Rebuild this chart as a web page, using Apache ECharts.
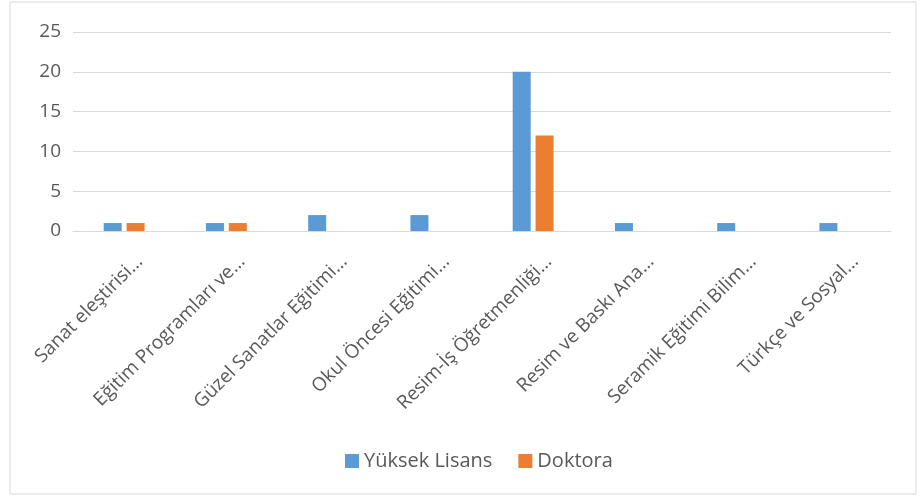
<!doctype html>
<html>
<head>
	<meta charset="utf-8">
	<title>Chart</title>
	<script src="https://cdn.jsdelivr.net/npm/echarts@6/dist/echarts.min.js"></script>
	<style>
		html, body { margin: 0; padding: 0; background: #fff; }
		#chart { width: 920px; height: 497px; }
	</style>
</head>
<body>
	<div id="chart"></div>
	<script type="text/javascript">
		var categories = ['Sanat eleştirisi...', 'Eğitim Programları ve...', 'Güzel Sanatlar Eğitimi...', 'Okul Öncesi Eğitimi...', 'Resim-İş Öğretmenliği...', 'Resim ve Baskı Ana...', 'Seramik Eğitimi Bilim...', 'Türkçe ve Sosyal...'];
		var yuksekLisans = [1, 1, 2, 2, 20, 1, 1, 1];
		var doktora = [1, 1, 0, 0, 12, 0, 0, 0];
		var yTicks = [0, 5, 10, 15, 20, 25];

		var textColor = '#595959';
		var font = 'Open Sans';

		var myChart = echarts.init(document.getElementById('chart'), null, { renderer: 'canvas' });
		var option = {
			animation: false,
			graphic: [{
				type: 'rect',
				shape: { x: 10, y: 2, width: 906, height: 492 },
				style: { fill: 'none', stroke: '#D9D9D9', lineWidth: 1 }
			}],
			legend: {
				data: ['Yüksek Lisans', 'Doktora'],
				left: 340,
				top: 446,
				icon: 'rect',
				itemWidth: 14,
				itemHeight: 14,
				itemGap: 26,
				textStyle: { color: textColor, fontSize: 20, fontFamily: font }
			},
			grid: {
				left: 73,
				right: 29,
				top: 32,
				height: 199
			},
			xAxis: {
				type: 'category',
				data: categories,
				axisLine: { lineStyle: { color: '#D9D9D9', width: 1 } },
				axisTick: { show: false },
				axisLabel: {
					rotate: 45,
					interval: 0,
					margin: 12,
					verticalAlign: 'top',
					lineHeight: 44,
					color: textColor,
					fontSize: 19,
					fontFamily: font
				}
			},
			yAxis: {
				type: 'value',
				min: 0,
				max: 25,
				interval: 5,
				axisLine: { show: false },
				axisTick: { show: false },
				splitLine: { lineStyle: { color: '#D9D9D9', width: 1 } },
				axisLabel: {
					margin: 12,
					color: textColor,
					fontSize: 19,
					fontFamily: font,
					formatter: function(v) { return yTicks.indexOf(v) >= 0 ? String(v) : ''; }
				}
			},
			series: [
				{
					name: 'Yüksek Lisans',
					type: 'bar',
					data: yuksekLisans,
					barGap: '27%',
					barCategoryGap: '60%',
					itemStyle: { color: '#5B9BD5' }
				},
				{
					name: 'Doktora',
					type: 'bar',
					data: doktora,
					itemStyle: { color: '#ED7D31' }
				}
			]
		};
		myChart.setOption(option);
	</script>
</body>
</html>
